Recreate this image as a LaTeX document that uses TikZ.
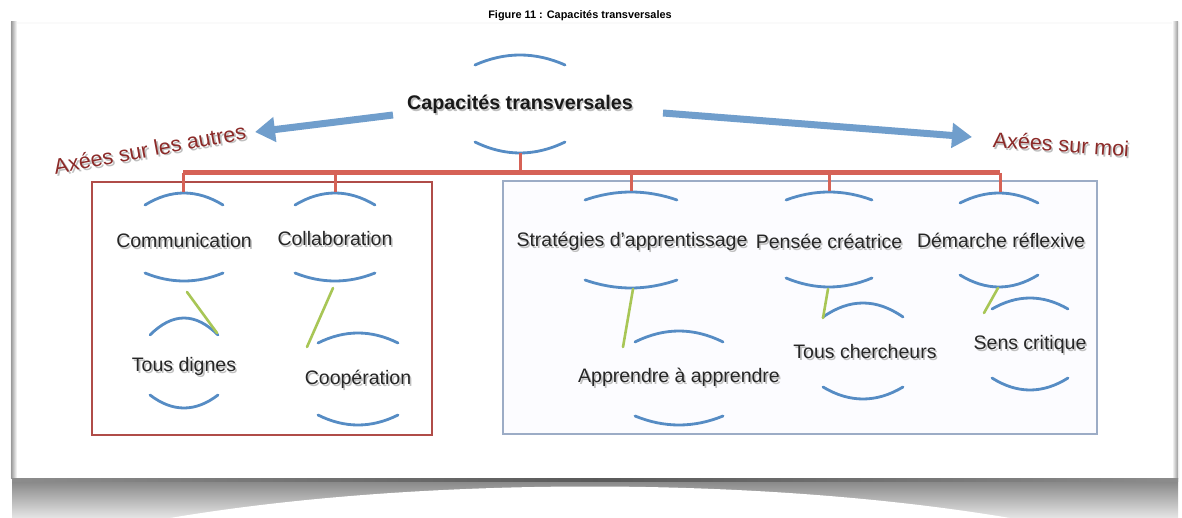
\documentclass[tikz,border=0pt]{standalone}
\usepackage{fontspec}
\setmainfont{Liberation Sans}
\usetikzlibrary{arrows.meta}
\definecolor{arcblue}{RGB}{86,140,196}
\definecolor{arrowblue}{RGB}{112,158,204}
\definecolor{treered}{RGB}{214,98,86}
\definecolor{boxred}{RGB}{176,76,72}
\definecolor{boxblue}{RGB}{156,172,198}
\definecolor{linkgreen}{RGB}{168,198,86}
\definecolor{labelred}{RGB}{140,42,40}
\newcommand\shtx[1]{\makebox[0pt][l]{\hspace{1.6pt}\raisebox{-2pt}{\textcolor{black!25}{#1}}}#1}
\newcommand\tarc[4]{\draw[arcline] (#1-#3,#2) .. controls (#1-#3/3,{#2+(#4-#2)*4/3}) and (#1+#3/3,{#2+(#4-#2)*4/3}) .. (#1+#3,#2);}
\tikzset{
  concept/.style={font=\fontsize{19.5}{21}\selectfont, inner sep=0pt, text=black!85},
  headline/.style={font=\bfseries\fontsize{19.7}{21}\selectfont, inner sep=0pt, text=black!90},
  sidelabel/.style={font=\fontsize{21.5}{23}\selectfont, inner sep=0pt, text=labelred},
  arcline/.style={arcblue, line width=2.8pt, line cap=round},
  tree/.style={treered, line width=3pt},
  bus/.style={treered, line width=5pt},
  link/.style={linkgreen, line width=2.6pt, line cap=round},
  bigarrow/.style={arrowblue, line width=7pt, -{Triangle[length=20pt,width=24pt]}},
}
\begin{document}
\begin{tikzpicture}[x=1pt,y=-1pt]
\useasboundingbox (0,0) rectangle (1182,518);
\fill[white] (0,0) rectangle (1182,518);
% title
\node[font=\bfseries\fontsize{10.9}{12}\selectfont, inner sep=0pt] (title) at (580,16) {Figure 11 : Capacités transversales};
% panel
\fill[black!2] (10,22) rectangle (1180,478);
\fill[white] (17,24) rectangle (1172,478);
\shade[left color=black!40, right color=white] (11,22) rectangle (17,478);
\shade[left color=white, right color=black!40] (1172,22) rectangle (1178,478);
% bottom curled shadow
\shade[top color=black!50, bottom color=black!10] (12,478) rectangle (1178,518);
\fill[white] (170,518) .. controls (420,476) and (760,476) .. (1010,518) -- cycle;
\shade[left color=black!45, right color=black!45, middle color=black!65] (12,478) rectangle (1178,481);
% boxes
\draw[boxred, line width=1.5pt, fill=white] (92,182) rectangle (432,435);
\draw[boxblue, line width=1.5pt, fill=blue!1] (503,181) rectangle (1097,434);
% nodes
\node[headline] (main) at (520,105) {\shtx{Capacités transversales}};
\node[concept] (comm) at (184,242) {\shtx{Communication}};
\node[concept] (collab) at (335,240) {\shtx{Collaboration}};
\node[concept] (dignes) at (184,367) {\shtx{Tous dignes}};
\node[concept] (coop) at (358,380) {\shtx{Coopération}};
\node[concept] (strat) at (632,242) {\shtx{Stratégies d'apprentissage}};
\node[concept] (pensee) at (829,242) {\shtx{Pensée créatrice}};
\node[concept] (demarche) at (1001,241) {\shtx{Démarche réflexive}};
\node[concept] (apprendre) at (679,378) {\shtx{Apprendre à apprendre}};
\node[concept] (chercheurs) at (865,353) {\shtx{Tous chercheurs}};
\node[concept] (sens) at (1030,345) {\shtx{Sens critique}};
\node[sidelabel, rotate=10.5] (autres) at (150,150) {\shtx{Axées sur les autres}};
\node[sidelabel, rotate=-4] (moi) at (1061,145) {\shtx{Axées sur moi}};
% arcs (top / bottom of each concept)
\tarc{520}{65}{45}{55}   \tarc{520}{142}{45}{153}
\tarc{184}{205}{39}{193} \tarc{184}{273}{39}{281}
\tarc{335}{205}{40}{193} \tarc{335}{273}{40}{281}
\tarc{184}{335}{34}{318} \tarc{184}{395}{34}{408}
\tarc{358}{343}{40}{333} \tarc{358}{415}{40}{425}
\tarc{631}{200}{46}{192} \tarc{631}{280}{46}{288}
\tarc{829}{200}{43}{192} \tarc{829}{278}{43}{287}
\tarc{999}{203}{39}{193} \tarc{999}{275}{39}{287}
\tarc{679}{342}{44}{331} \tarc{679}{416}{44}{425}
\tarc{863}{317}{40}{303} \tarc{863}{387}{40}{399}
\tarc{1030}{309}{38}{298} \tarc{1030}{378}{38}{390}
% tree anchor coordinates
\coordinate (main-b) at (520,153);
\coordinate (busc) at (520,173);
\coordinate (comm-t) at (183,192);
\coordinate (collab-t) at (335,192);
\coordinate (strat-t) at (631,191);
\coordinate (pensee-t) at (829,191);
\coordinate (demarche-t) at (1000,192);
\draw[tree] (main-b) -- (busc);
\draw[bus] (comm-t |- busc) -- (demarche-t |- busc);
\foreach \c in {comm-t,collab-t,strat-t,pensee-t,demarche-t}
  \draw[tree] (\c |- busc) -- (\c);
% green links
\coordinate (comm-b) at (187,292);   \coordinate (dignes-t) at (217,333);
\coordinate (collab-b) at (333,288); \coordinate (coop-t) at (307,347);
\coordinate (strat-b) at (633,289);  \coordinate (apprendre-t) at (623,347);
\coordinate (pensee-b) at (828,289); \coordinate (chercheurs-t) at (823,318);
\coordinate (demarche-b) at (998,288); \coordinate (sens-t) at (984,313);
\draw[link] (comm-b) -- (dignes-t);
\draw[link] (collab-b) -- (coop-t);
\draw[link] (strat-b) -- (apprendre-t);
\draw[link] (pensee-b) -- (chercheurs-t);
\draw[link] (demarche-b) -- (sens-t);
% blue arrows
\coordinate (la-tail) at (393,115); \coordinate (la-tip) at (255,132);
\coordinate (ra-tail) at (663,113); \coordinate (ra-tip) at (972,137);
\draw[bigarrow] (la-tail) -- (la-tip);
\draw[bigarrow] (ra-tail) -- (ra-tip);
\end{tikzpicture}
\end{document}
